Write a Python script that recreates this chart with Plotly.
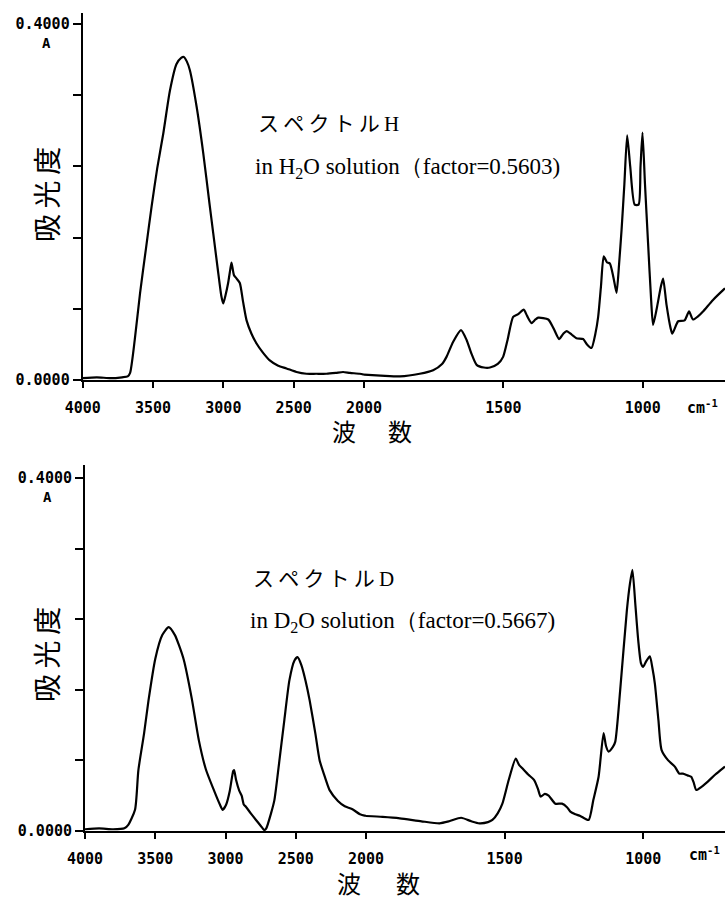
import plotly.graph_objects as go

# ---------------- data ----------------
h_wn = [4000, 3900, 3800, 3720, 3680, 3663, 3630, 3592, 3550, 3510, 3470, 3427, 3380, 3333, 3300, 3281,
        3260, 3238, 3190, 3143, 3100, 3072, 3040, 3015, 3001, 2985, 2966, 2950, 2942, 2925, 2906, 2883,
        2860, 2835, 2800, 2764, 2720, 2670, 2610, 2551, 2480, 2409, 2340, 2267, 2200, 2149, 2100, 2030,
        2000, 1940, 1871, 1800, 1752, 1720, 1704, 1680, 1652, 1632, 1615, 1596, 1570, 1548, 1520, 1501,
        1485, 1465, 1447, 1427, 1415, 1399, 1385, 1375, 1339, 1320, 1300, 1285, 1273, 1255, 1238, 1214,
        1200, 1184, 1170, 1160, 1150, 1140, 1128, 1118, 1105, 1094, 1085, 1076, 1066, 1056, 1045, 1029,
        1015, 1008, 1001, 992, 981, 970, 963, 950, 935, 927, 915, 900, 894, 880, 873, 850, 834, 820, 800,
        784, 748, 712, 705]
h_abs = [0.002, 0.003, 0.002, 0.003, 0.004, 0.008, 0.045, 0.098, 0.148, 0.195, 0.238, 0.277, 0.325, 0.355,
         0.362, 0.363, 0.358, 0.348, 0.307, 0.255, 0.200, 0.165, 0.125, 0.095, 0.086, 0.095, 0.109, 0.125,
         0.132, 0.118, 0.114, 0.109, 0.088, 0.067, 0.052, 0.041, 0.031, 0.022, 0.016, 0.013, 0.009, 0.007,
         0.007, 0.007, 0.008, 0.009, 0.008, 0.007, 0.006, 0.005, 0.004, 0.007, 0.011, 0.018, 0.026, 0.043,
         0.056, 0.045, 0.030, 0.017, 0.014, 0.014, 0.018, 0.026, 0.045, 0.071, 0.074, 0.079, 0.072, 0.064,
         0.068, 0.070, 0.068, 0.058, 0.046, 0.052, 0.055, 0.051, 0.047, 0.046, 0.040, 0.036, 0.052, 0.071,
         0.105, 0.139, 0.132, 0.131, 0.115, 0.098, 0.130, 0.169, 0.220, 0.275, 0.240, 0.197, 0.197, 0.240,
         0.278, 0.220, 0.154, 0.090, 0.062, 0.080, 0.105, 0.114, 0.085, 0.058, 0.052, 0.062, 0.066, 0.067,
         0.077, 0.068, 0.072, 0.077, 0.090, 0.101, 0.103]

d_wn = [4000, 3900, 3800, 3720, 3692, 3644, 3620, 3580, 3548, 3500, 3450, 3405, 3360, 3330, 3297, 3240,
        3190, 3140, 3082, 3040, 3020, 2995, 2970, 2945, 2939, 2925, 2903, 2885, 2870, 2855, 2820, 2783,
        2750, 2724, 2710, 2676, 2652, 2620, 2581, 2545, 2510, 2487, 2460, 2430, 2401, 2360, 2330, 2290,
        2258, 2200, 2151, 2100, 2043, 2000, 1940, 1878, 1800, 1735, 1700, 1657, 1620, 1591, 1560, 1544,
        1525, 1508, 1485, 1460, 1448, 1436, 1415, 1394, 1380, 1370, 1355, 1341, 1317, 1293, 1275, 1263,
        1245, 1227, 1197, 1180, 1161, 1143, 1134, 1125, 1110, 1101, 1083, 1059, 1048, 1039, 1028, 1018,
        1008, 1000, 990, 976, 967, 958, 945, 934, 910, 886, 870, 857, 840, 827, 818, 809, 790, 767, 740,
        713, 705]
d_abs = [0.002, 0.003, 0.002, 0.003, 0.007, 0.024, 0.069, 0.110, 0.148, 0.195, 0.222, 0.231, 0.222, 0.210,
         0.194, 0.150, 0.103, 0.070, 0.046, 0.030, 0.024, 0.030, 0.045, 0.068, 0.069, 0.058, 0.046, 0.040,
         0.030, 0.0275, 0.020, 0.0125, 0.006, 0.001, 0.003, 0.020, 0.035, 0.075, 0.126, 0.171, 0.193, 0.197,
         0.188, 0.170, 0.148, 0.110, 0.080, 0.060, 0.046, 0.034, 0.028, 0.025, 0.019, 0.017, 0.016, 0.0144,
         0.011, 0.0087, 0.011, 0.015, 0.011, 0.0087, 0.010, 0.0125, 0.020, 0.031, 0.058, 0.082, 0.075, 0.071,
         0.064, 0.058, 0.048, 0.039, 0.042, 0.040, 0.031, 0.031, 0.027, 0.022, 0.019, 0.017, 0.0125, 0.035,
         0.0615, 0.111, 0.096, 0.090, 0.095, 0.101, 0.160, 0.250, 0.280, 0.296, 0.255, 0.216, 0.190, 0.186,
         0.192, 0.198, 0.185, 0.167, 0.125, 0.092, 0.080, 0.073, 0.065, 0.065, 0.063, 0.0615, 0.055, 0.0465,
         0.050, 0.056, 0.064, 0.071, 0.073]

x_ticks_high = [4000, 3500, 3000, 2500, 2000]
x_ticks_low = [1500, 1000]
y_major = [0, 0.40]
y_major_text = ["0.0000", "0.4000"]
y_minor = [0.08, 0.16, 0.24, 0.32]
SPLIT = 2000
X_END = 705

W, H = 725, 900
def px(x): return x / W
def py(y): return 1 - y / H

fig = go.Figure()

def split(wn, ab):
    hi = [(w, a) for w, a in zip(wn, ab) if w >= SPLIT]
    lo = [(w, a) for w, a in zip(wn, ab) if w <= SPLIT]
    return hi, lo

line = dict(color="black", width=2.2, shape="spline", smoothing=0.6)
for (wn, ab, xa, xb, ya) in [(h_wn, h_abs, "x", "x2", "y"), (d_wn, d_abs, "x3", "x4", "y2")]:
    hi, lo = split(wn, ab)
    fig.add_trace(go.Scatter(x=[p[0] for p in hi], y=[p[1] for p in hi], mode="lines",
                             line=line, xaxis=xa, yaxis=ya, showlegend=False))
    fig.add_trace(go.Scatter(x=[p[0] for p in lo], y=[p[1] for p in lo], mode="lines",
                             line=line, xaxis=xb, yaxis=ya, showlegend=False))

tickfont = dict(family="DejaVu Sans Mono", size=15, color="black", weight="bold")
ax_common = dict(showline=True, linecolor="black", linewidth=2, ticks="outside", ticklen=6,
                 tickwidth=2, tickcolor="black", showgrid=False, zeroline=False, automargin=False,
                 tickfont=tickfont, ticklabelstandoff=7)
y_common = dict(tickvals=y_major, ticktext=y_major_text, showline=True, linecolor="black",
                linewidth=2, ticks="outside", ticklen=8, tickwidth=2, tickcolor="black",
                showgrid=False, zeroline=False, tickfont=tickfont, automargin=False,
                minor=dict(tickvals=y_minor, ticks="outside", ticklen=8, tickwidth=2,
                           tickcolor="black", showgrid=False))

top_dom = [py(380), py(13)]
bot_dom = [py(831), py(465)]
fig.update_layout(
    xaxis=dict(domain=[px(82.7), px(364)], range=[4000, SPLIT], anchor="y",
               tickvals=x_ticks_high, ticktext=[str(v) for v in x_ticks_high], **ax_common),
    xaxis2=dict(domain=[px(364), 1.0], range=[SPLIT, X_END], anchor="y",
                tickvals=x_ticks_low, ticktext=[str(v) for v in x_ticks_low], **ax_common),
    yaxis=dict(domain=top_dom, range=[0, 0.4 + 0.4 * 11 / 356], anchor="x", **y_common),
    xaxis3=dict(domain=[px(85), px(366)], range=[4000, SPLIT], anchor="y2",
                tickvals=x_ticks_high, ticktext=[str(v) for v in x_ticks_high], **ax_common),
    xaxis4=dict(domain=[px(366), 1.0], range=[SPLIT, X_END], anchor="y2",
                tickvals=x_ticks_low, ticktext=[str(v) for v in x_ticks_low], **ax_common),
    yaxis2=dict(domain=bot_dom, range=[0, 0.4 + 0.4 * 13 / 353], anchor="x3", **y_common),
    width=W, height=H, margin=dict(l=0, r=0, t=0, b=0, pad=0, autoexpand=False),
    paper_bgcolor="white", plot_bgcolor="white",
)

cjk = "Noto Sans CJK JP"
serif = "Liberation Serif"
annots = []
def ann(text, x, y, size, family, xanchor="center", angle=0, weight="normal"):
    annots.append(dict(text=text, x=px(x), y=py(y), xref="paper", yref="paper",
                       xanchor=xanchor, yanchor="middle", showarrow=False, textangle=angle,
                       borderpad=0,
                       font=dict(family=family, size=size, color="black", weight=weight)))

S = "\u2009"
def spaced(s): return S.join(s)

# top annotations
ann("A", 46, 43, 14, "DejaVu Sans Mono", weight="bold")
ann("cm<sup>-1</sup>", 702, 407, 15, "DejaVu Sans Mono", weight="bold")
ann("波", 344, 430, 24, cjk)
ann("数", 400, 430, 24, cjk)
ann(spaced("吸光度"), 46, 195, 28, cjk, angle=-90)
ann(spaced("スペクトル") + S + "<span style='font-family:Liberation Serif'>H</span>", 257, 122, 21, cjk, xanchor="left")
ann("in H<sub>2</sub>O solution（factor=0.5603)", 254, 168, 23, serif, xanchor="left")

# bottom annotations
ann("A", 47, 497, 14, "DejaVu Sans Mono", weight="bold")
ann("cm<sup>-1</sup>", 704, 854, 15, "DejaVu Sans Mono", weight="bold")
ann("波", 349, 882, 24, cjk)
ann("数", 408, 882, 24, cjk)
ann(spaced("吸光度"), 46, 655, 28, cjk, angle=-90)
ann(spaced("スペクトル") + S + "<span style='font-family:Liberation Serif'>D</span>", 252, 577, 21, cjk, xanchor="left")
ann("in D<sub>2</sub>O solution（factor=0.5667)", 249, 622, 23, serif, xanchor="left")

fig.update_layout(annotations=annots)
fig.write_html("out.html")
